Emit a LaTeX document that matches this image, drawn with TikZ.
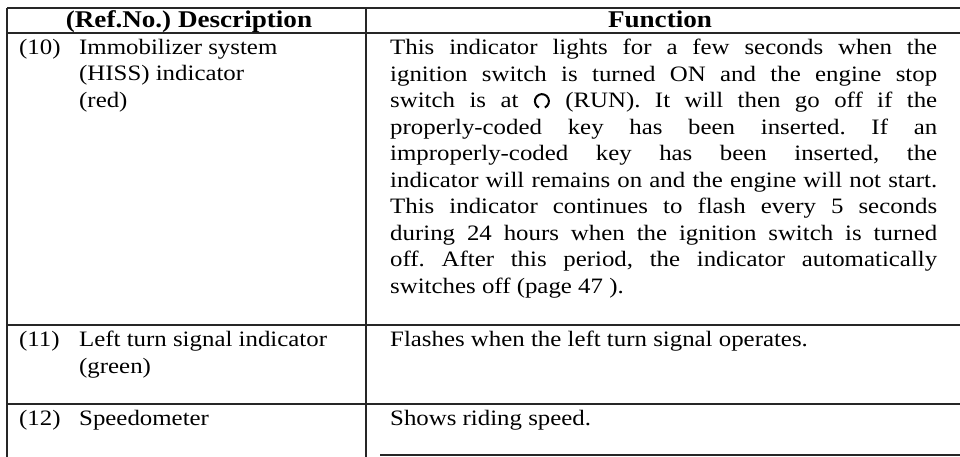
\documentclass[tikz,border=0pt]{standalone}
\usepackage{fontspec}
\setmainfont{Liberation Serif}[FakeStretch=1.13]
\frenchspacing
\definecolor{rule_grey}{rgb}{0.15, 0.15, 0.15}
\tikzset{
  rule/.style={line width=1.2pt, draw=rule_grey},
  cell/.style={anchor=base west, inner sep=0pt, font=\fontsize{22}{26.5}\selectfont},
  head/.style={anchor=base, inner sep=0pt, font=\fontsize{24}{26.5}\selectfont\bfseries},
  para/.style={anchor=north west, inner sep=0pt, text width=547pt, align=justify, font=\fontsize{22}{26.5}\selectfont}
}
\newcommand{\runsymbol}{\tikz[baseline=0pt]\draw[line width=2pt] (10.2pt, 0.2pt) arc[start angle=-65, end angle=245, radius=7pt];}

\begin{document}
\begin{tikzpicture}[x=1pt, y=-1pt]
    \useasboundingbox (0,0) rectangle (960,457);
    \begin{scope}
        \draw[rule] (7,8) -- (960,8);
        \draw[rule] (7,33) -- (960,33);
        \draw[rule] (7,325) -- (960,325);
        \draw[rule] (7,404) -- (960,404);
        \draw[rule] (380,455) -- (960,455);
        \draw[rule] (7,8) -- (7,457);
        \draw[rule] (366,8) -- (366,457);
    \end{scope}
    \node[head] (desc_head) at (189,28) {(Ref.No.) Description};
    \node[head] (func_head) at (660,28) {Function};

    \node[cell] (ref_10) at (19,54.5) {(10)};
    \node[cell] (desc_10a) at (79,54.5) {Immobilizer system};
    \node[cell] (desc_10b) at (79,81) {(HISS) indicator};
    \node[cell] (desc_10c) at (79,107.5) {(red)};
    \node[para] (func_10) at (390,35.95) {\noindent\strut This indicator lights for a few seconds when the\linebreak
        ignition switch is turned ON and the engine stop\linebreak
        switch is at \runsymbol{} (RUN). It will then go off if the\linebreak
        properly-coded key has been inserted. If an\linebreak
        improperly-coded key has been inserted, the\linebreak
        indicator will remains on and the engine will not start.\linebreak
        This indicator continues to flash every 5 seconds\linebreak
        during 24 hours when the ignition switch is turned\linebreak
        off. After this period, the indicator automatically\linebreak
        switches off (page 47 ).};

    \node[cell] (ref_11) at (19,346.5) {(11)};
    \node[cell] (desc_11a) at (79,346.5) {Left turn signal indicator};
    \node[cell] (desc_11b) at (79,373) {(green)};
    \node[cell] (func_11) at (390,346.5) {Flashes when the left turn signal operates.};

    \node[cell] (ref_12) at (19,425.5) {(12)};
    \node[cell] (desc_12) at (79,425.5) {Speedometer};
    \node[cell] (func_12) at (390,425.5) {Shows riding speed.};
\end{tikzpicture}
\end{document}
